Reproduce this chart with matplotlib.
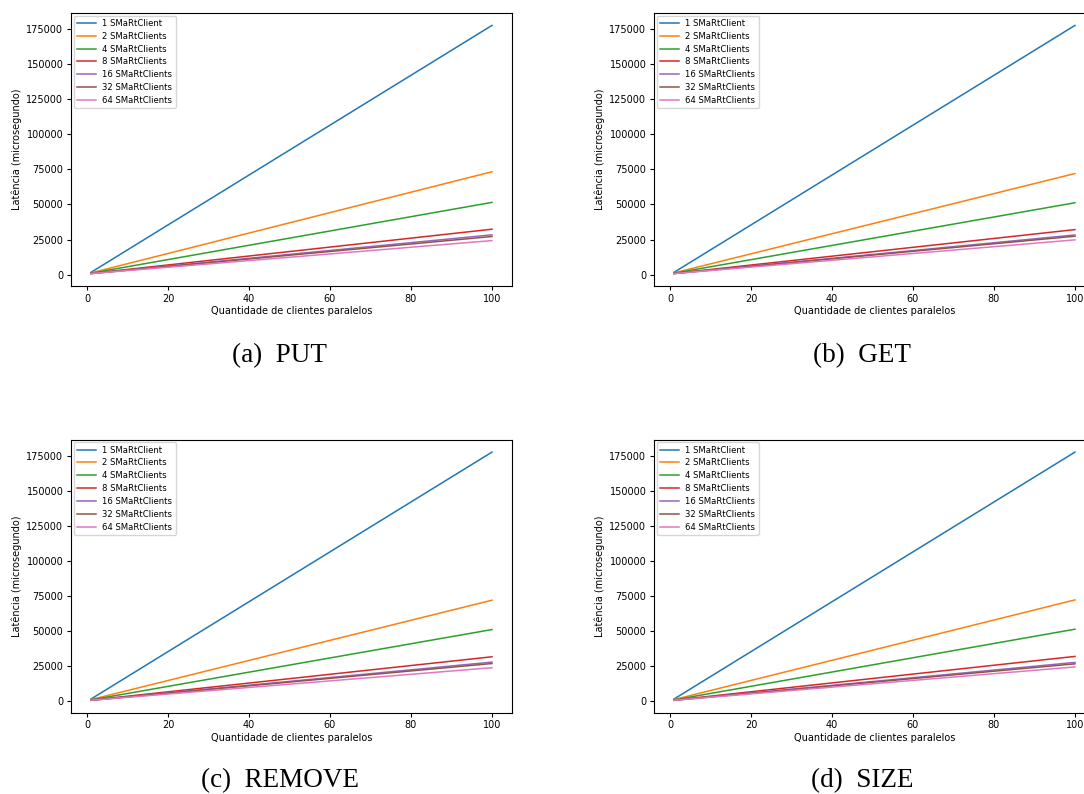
import matplotlib
matplotlib.use("Agg")
import matplotlib.pyplot as plt

# numero de clientes paralelos (eixo x)
clientes = [1, 100]

labels = ["1 SMaRtClient", "2 SMaRtClients", "4 SMaRtClients", "8 SMaRtClients",
          "16 SMaRtClients", "32 SMaRtClients", "64 SMaRtClients"]

# latencia (microsegundo) em x=1 e x=100, uma lista por linha
put_lat = [[1700, 177500], [1300, 73300], [1100, 51500], [900, 32400],
           [850, 28400], [800, 27200], [800, 24300]]
get_lat = [[1700, 177400], [1300, 72000], [1100, 51200], [900, 32100],
           [850, 28300], [800, 27400], [800, 24800]]
remove_lat = [[1700, 177600], [1300, 72100], [1100, 51200], [900, 31800],
              [850, 28000], [800, 27000], [800, 24000]]
size_lat = [[1700, 177800], [1300, 72400], [1100, 51500], [900, 32100],
            [850, 27800], [800, 26800], [800, 24600]]

captions = ["(a)  PUT", "(b)  GET", "(c)  REMOVE", "(d)  SIZE"]


def draw_panel(ax, data):
    for serie, lab in zip(data, labels):
        ax.plot(clientes, serie, linewidth=1.1, label=lab)
    ax.set_xlabel("Quantidade de clientes paralelos", fontsize=7, labelpad=2)
    ax.set_ylabel("Latência (microsegundo)", fontsize=7, labelpad=3)
    ax.set_xticks([0, 20, 40, 60, 80, 100])
    ax.set_yticks([0, 25000, 50000, 75000, 100000, 125000, 150000, 175000])
    ax.tick_params(labelsize=7, length=3, pad=2.5)
    ax.legend(loc="upper left", fontsize=6.1, borderaxespad=0.3,
              labelspacing=0.45, handlelength=2.2)


def main():
    fig = plt.figure(figsize=(10.84, 7.94), dpi=100)
    W, H = 1084.0, 794.0
    w = 441 / W
    h = 273 / H
    positions = [(71 / W, 1 - 286 / H), (654 / W, 1 - 286 / H),
                 (71 / W, 1 - 712.7 / H), (654 / W, 1 - 712.7 / H)]
    cap_pos = [(280 / W, 1 - 356 / H), (862 / W, 1 - 356 / H),
               (280 / W, 1 - 781 / H), (862 / W, 1 - 781 / H)]
    all_data = [put_lat, get_lat, remove_lat, size_lat]

    for i in range(4):
        ax = fig.add_axes([positions[i][0], positions[i][1], w, h])
        draw_panel(ax, all_data[i])
        fig.text(cap_pos[i][0], cap_pos[i][1], captions[i], ha="center", va="center",
                 fontsize=19.5, family="Liberation Serif")

    fig.savefig("out.png", dpi=100)


if __name__ == "__main__":
    main()
